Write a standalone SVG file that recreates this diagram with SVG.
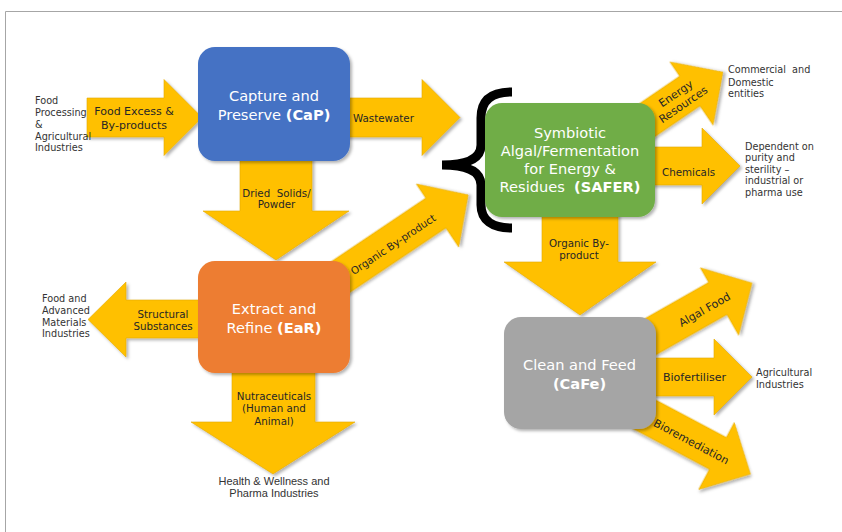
<svg xmlns="http://www.w3.org/2000/svg" width="842" height="532" viewBox="0 0 842 532">
<defs>
<filter id="sh" x="-20%" y="-20%" width="140%" height="140%"><feDropShadow dx="2" dy="2" stdDeviation="1.5" flood-color="#000" flood-opacity="0.3"/></filter>
</defs>
<style>
.ar{fill:#FFC000;stroke:#E3AA00;stroke-width:0.6;filter:url(#sh)}
.bx{filter:url(#sh)}
.bt{font-family:"DejaVu Sans",Verdana,sans-serif;font-size:14.6px;fill:#fff;text-anchor:middle}
.b{font-weight:bold}
.al{font-family:"DejaVu Sans",Verdana,sans-serif;font-size:10.3px;fill:#262626}
.al2{font-family:"DejaVu Sans",Verdana,sans-serif;font-size:11px;fill:#262626}
.c{text-anchor:middle}
.sd{font-family:"DejaVu Sans",Verdana,sans-serif;font-size:9.7px;fill:#333}
.hw{font-family:"Liberation Sans",Arial,sans-serif;font-size:11px;fill:#333;text-anchor:middle}
</style>
<rect width="842" height="532" fill="#fff"/>
<path d="M5.5,532V11.5H842" fill="none" stroke="#A6A6A6" stroke-width="1"/>

<g id="connectors">
<path class="ar" d="M87,98H164V79.5L202,117.5L164,155.5V137H87Z"/>
<text class="al2 c" x="134" y="115">Food Excess &amp;</text>
<text class="al2 c" x="134" y="128.5">By-products</text>

<path class="ar" d="M340,98H422V79.5L460,117.5L422,155.5V137H340Z"/>
<text class="al" x="353" y="122">Wastewater</text>

<path class="ar" d="M240,150H312V211H349L276,260L203,211H240Z"/>
<text class="al c" x="276.5" y="196.5" xml:space="preserve">Dried  Solids/</text>
<text class="al c" x="276.5" y="208">Powder</text>

<g transform="translate(437.5,215.5) rotate(-33.9)">
<path class="ar" d="M-145,-21H0V-38L37,0L0,38V15H-145Z"/>
<text class="al c" x="-53" y="3">Organic By-product</text>
</g>

<path class="ar" d="M205,300H126V282L88,319.5L126,357V338H205Z"/>
<text class="al c" x="163" y="317.5">Structural</text>
<text class="al c" x="163" y="329.5">Substances</text>

<path class="ar" d="M232,365H315V422H355L273,474L191,422H232Z"/>
<text class="al c" x="274" y="399.5">Nutraceuticals</text>
<text class="al c" x="274" y="412">(Human and</text>
<text class="al c" x="274" y="424.5">Animal)</text>

<path class="ar" d="M542,210H618V262H656L580,315L504,262H542Z"/>
<text class="al c" x="579" y="247">Organic By-</text>
<text class="al c" x="579" y="259">product</text>

<path class="ar" d="M645,147H702V128L740,166L702,204V185H645Z"/>
<text class="al" x="662" y="175.5">Chemicals</text>

<g transform="translate(691.5,93.5) rotate(-34.3)">
<path class="ar" d="M-65,-21H0V-38.3L38,0L0,38.3V15H-65Z"/>
<text class="al2 c" x="-13" y="-5">Energy</text>
<text class="al2 c" x="-13" y="8.2">Resources</text>
</g>

<g transform="translate(719.5,301.5) rotate(-29.6)">
<path class="ar" d="M-85,-22H0V-38.7L37.4,0L0,38.7V15H-85Z"/>
<text class="al2 c" x="-17" y="3.5">Algal Food</text>
</g>

<path class="ar" d="M645,358H714V339L752,377L714,415V396H645Z"/>
<text class="al2" x="663" y="380.5">Biofertiliser</text>

<g transform="translate(716.5,456) rotate(28)">
<path class="ar" d="M-88,-21H0V-38L38.5,0L0,38V15H-88Z"/>
<text class="al2 c" x="-29" y="3">Bioremediation</text>
</g>

<path d="M512,92 C492,92 481,100 481,118 L481,145 C481,158 468,165 442,165 C468,165 481,172 481,185 L481,205 C481,220 492,228 512,228" fill="none" stroke="#000" stroke-width="9"/>
</g>

<g id="node-cap">
<rect class="bx" x="198" y="47" width="152" height="114" rx="17" fill="#4472C4"/>
<text class="bt" x="274" y="101">Capture and</text>
<text class="bt" x="274" y="119.5">Preserve <tspan class="b">(CaP)</tspan></text>
</g>

<g id="node-safer">
<rect class="bx" x="485" y="103" width="170" height="114" rx="17" fill="#70AD47"/>
<text class="bt" x="570" y="138">Symbiotic</text>
<text class="bt" x="570" y="156">Algal/Fermentation</text>
<text class="bt" x="570" y="174">for Energy &amp;</text>
<text class="bt" x="570" y="192">Residues&#160; <tspan class="b">(SAFER)</tspan></text>
</g>

<g id="node-ear">
<rect class="bx" x="198" y="261" width="152" height="112" rx="17" fill="#ED7D31"/>
<text class="bt" x="274" y="314">Extract and</text>
<text class="bt" x="274" y="332.5">Refine <tspan class="b">(EaR)</tspan></text>
</g>

<g id="node-cafe">
<rect class="bx" x="504" y="317" width="152" height="112" rx="17" fill="#A5A5A5"/>
<text class="bt" x="579.5" y="369.5">Clean and Feed</text>
<text class="bt b" x="579.5" y="389">(CaFe)</text>
</g>

<g id="node-food-processing">
<text class="sd" x="35" y="104">Food</text>
<text class="sd" x="35" y="116">Processing</text>
<text class="sd" x="35" y="128">&amp;</text>
<text class="sd" x="35" y="139.5">Agricultural</text>
<text class="sd" x="35" y="151">Industries</text>
</g>

<g id="node-commercial">
<text class="sd" x="728" y="73" xml:space="preserve">Commercial  and</text>
<text class="sd" x="728" y="85.5">Domestic</text>
<text class="sd" x="728" y="97">entities</text>
</g>

<g id="node-dependent">
<text class="sd" x="745" y="149.5">Dependent on</text>
<text class="sd" x="745" y="161">purity and</text>
<text class="sd" x="745" y="172.5">sterility –</text>
<text class="sd" x="745" y="184">industrial or</text>
<text class="sd" x="745" y="196">pharma use</text>
</g>

<g id="node-food-advanced">
<text class="sd" x="42" y="302">Food and</text>
<text class="sd" x="42" y="314">Advanced</text>
<text class="sd" x="42" y="325.5">Materials</text>
<text class="sd" x="42" y="337">Industries</text>
</g>

<g id="node-health">
<text class="hw" x="274" y="485">Health &amp; Wellness and</text>
<text class="hw" x="274" y="497">Pharma Industries</text>
</g>

<g id="node-agri">
<text class="sd" x="756" y="376">Agricultural</text>
<text class="sd" x="756" y="387.5">Industries</text>
</g>
</svg>
